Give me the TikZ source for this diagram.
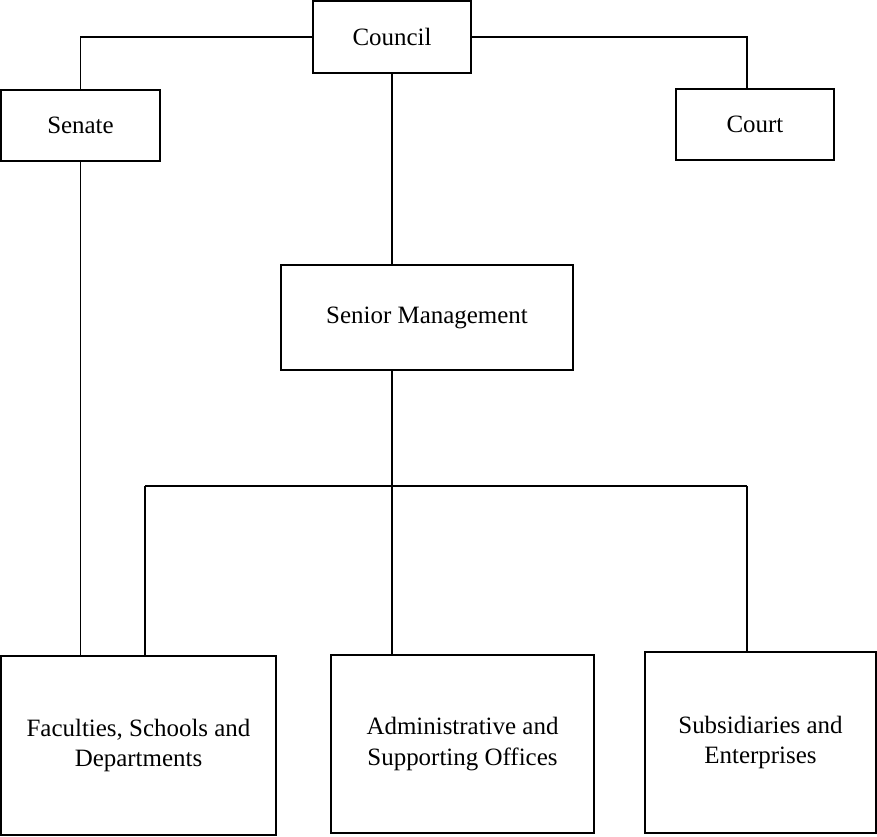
\documentclass[tikz,border=0pt]{standalone}
\usepackage{fontspec}
\setmainfont{Liberation Serif}
\begin{document}
\begin{tikzpicture}[x=0.02cm,y=-0.02cm]

    % Styles
    \tikzstyle{unit} = [rectangle, draw=black, line width=0.8pt, fill=white, inner sep=0pt, align=center, text centered, font=\fontsize{14.2}{17.5}\selectfont]
    \tikzstyle{link} = [line width=0.8pt, draw=black]

    \useasboundingbox (0,0) rectangle (877,837);

    % Nodes
    \node (council) [unit, minimum width=3.16cm, minimum height=1.44cm] at (392,37) {Council};
    \node (senate) [unit, minimum width=3.18cm, minimum height=1.42cm] at (80.5,125.5) {Senate};
    \node (court) [unit, minimum width=3.16cm, minimum height=1.42cm] at (755,124.5) {Court};
    \node (senior) [unit, minimum width=5.84cm, minimum height=2.10cm] at (427,317.5) {Senior Management};
    \node (faculties) [unit, minimum width=5.50cm, minimum height=3.58cm] at (138.5,745.5) {Faculties, Schools and\\Departments};
    \node (admin) [unit, minimum width=5.26cm, minimum height=3.56cm] at (462.5,744) {Administrative and\\Supporting Offices};
    \node (subs) [unit, minimum width=4.62cm, minimum height=3.62cm] at (760.5,742.5) {Subsidiaries and\\Enterprises};

    % Bus
    \coordinate (bus) at (392,486);
    \coordinate (busL) at (145,486);
    \coordinate (busR) at (747,486);

    % Lines
    \draw [link] (council.west) -| (senate.north);
    \draw [link] (council.east) -| (busR |- court.north);
    \draw [link] (council.south) -- (council.south |- senior.north);
    \draw [link] (council.south |- senior.south) -- (bus);
    \draw [link] (busL) -- (busR);
    \draw [link] (busL) -- (busL |- faculties.north);
    \draw [link] (bus) -- (bus |- admin.north);
    \draw [link] (busR) -- (busR |- subs.north);
    \draw [link] (senate.south) -- (senate.south |- faculties.north);

\end{tikzpicture}
\end{document}
